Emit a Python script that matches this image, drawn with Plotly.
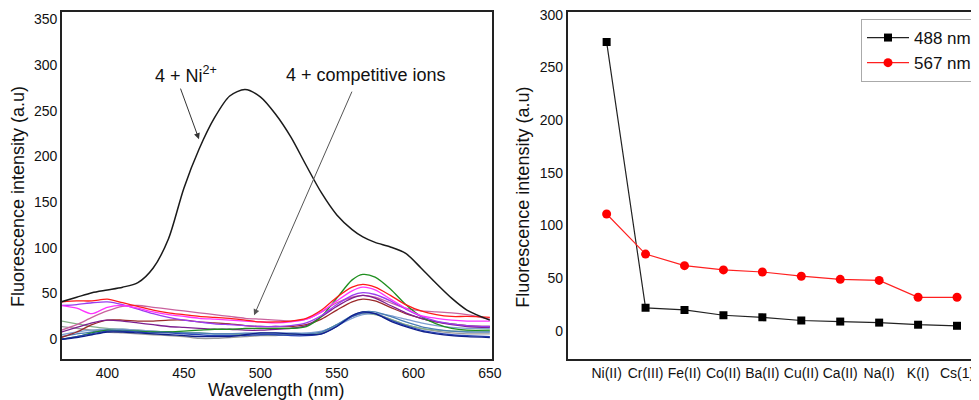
import plotly.graph_objects as go

# ---------------- data ----------------
wavelength = [370, 380, 390, 400, 410, 420, 430, 440, 450, 460, 470, 480, 490, 500, 510,
              520, 530, 540, 550, 560, 567, 575, 585, 595, 605, 615, 625, 635, 650]

ni_curve = [41, 46, 51, 54, 57, 62, 78, 110, 165, 208, 242, 266, 273, 265, 246,
            221, 190, 160, 136, 120, 112, 106, 101, 94, 78, 61, 45, 32, 21]

red_curve = [41, 42, 42, 44, 40, 36, 32, 29, 27, 25, 24, 23, 21, 19, 19,
             20, 23, 32, 46, 57, 60, 57, 48, 38, 31, 27, 25, 25, 24]
magenta_curve = [37, 34, 28, 35, 37, 34, 30, 27, 25, 23, 22, 21, 20, 19, 18,
                 19, 22, 30, 42, 53, 57, 54, 44, 34, 26, 23, 21, 20, 20]
violet_curve = [37, 38, 40, 41, 38, 33, 28, 24, 21, 19, 17, 16, 15, 14, 14,
                15, 18, 26, 38, 48, 51, 49, 42, 33, 25, 20, 17, 15, 14]
orchid_curve = [10, 16, 24, 31, 36, 37, 35, 33, 31, 29, 27, 25, 23, 22, 21,
                20, 22, 30, 40, 46, 48, 46, 40, 34, 31, 30, 29, 27, 22]
maroon_curve = [2, 8, 16, 21, 21, 20, 20, 21, 21, 19, 18, 17, 15, 14, 14,
                14, 16, 22, 32, 41, 44, 42, 35, 28, 23, 19, 17, 15, 14]
purple_curve = [8, 13, 18, 21, 20, 18, 16, 14, 13, 12, 11, 11, 10, 10, 11,
                12, 15, 25, 36, 45, 48, 45, 37, 29, 23, 19, 16, 14, 13]
green_curve = [0, 3, 7, 10, 9, 9, 8, 8, 9, 10, 11, 11, 12, 12, 12,
               12, 14, 25, 45, 65, 71, 68, 55, 38, 25, 17, 12, 10, 10]
navy_curve = [0, 2, 5, 8, 8, 7, 6, 5, 4, 3, 3, 3, 5, 7, 7,
              6, 5, 6, 14, 26, 30, 28, 20, 14, 9, 6, 4, 3, 2]
blue_curve = [0, 3, 6, 9, 9, 8, 7, 7, 6, 5, 4, 4, 4, 5, 5,
              4, 4, 6, 14, 25, 29, 28, 21, 15, 10, 7, 5, 4, 3]
steel_curve = [3, 6, 8, 10, 10, 9, 8, 8, 7, 7, 6, 6, 6, 6, 6,
               6, 6, 8, 16, 26, 30, 30, 25, 19, 14, 11, 9, 8, 8]
cornflower_curve = [5, 8, 10, 11, 11, 10, 9, 8, 7, 6, 6, 6, 7, 7, 7,
                    7, 7, 9, 15, 23, 27, 28, 26, 22, 18, 15, 13, 12, 12]
greygreen_curve = [20, 17, 14, 12, 11, 10, 9, 8, 7, 7, 6, 6, 5, 5, 5,
                   5, 5, 8, 16, 25, 28, 27, 22, 16, 12, 10, 9, 9, 9]
grey_curve = [14, 12, 10, 8, 7, 6, 5, 4, 3, 1, 1, 2, 3, 4, 4,
              5, 5, 7, 15, 25, 29, 28, 22, 16, 12, 9, 7, 6, 6]

ions = ["Ni(II)", "Cr(III)", "Fe(II)", "Co(II)", "Ba(II)", "Cu(II)", "Ca(II)", "Na(I)", "K(I)", "Cs(1)"]
int_488 = [274, 22, 20, 15, 13, 10, 9, 8, 6, 5]
int_567 = [111, 73, 62, 58, 56, 52, 49, 48, 32, 32]

# ---------------- figure ----------------
W, H = 979, 400
OFF = 8  # page body margin
FONT = "Liberation Sans, Arial, sans-serif"


def fx(x):
    return (x - OFF) / W


def fy(y):
    return 1 - (y - OFF) / H


fig = go.Figure()

comp = [
    (grey_curve, "#9a9a9a"),
    (greygreen_curve, "#86b086"),
    (cornflower_curve, "#7f9fd0"),
    (steel_curve, "#4a7fb5"),
    (orchid_curve, "#c9629e"),
    (maroon_curve, "#9b2a2a"),
    (purple_curve, "#7d1f8f"),
    (green_curve, "#1f8f1f"),
    (violet_curve, "#9a3cf0"),
    (magenta_curve, "#ff33ff"),
    (red_curve, "#ff1a1a"),
    (blue_curve, "#2a46b8"),
    (navy_curve, "#10208a"),
]
for vals, col in comp:
    fig.add_trace(go.Scatter(x=wavelength, y=vals, mode="lines", line=dict(color=col, width=1.3, shape="spline", smoothing=0.8),
                             xaxis="x", yaxis="y", showlegend=False, hoverinfo="skip"))

fig.add_trace(go.Scatter(x=wavelength, y=ni_curve, mode="lines", line=dict(color="#1a1a1a", width=1.5, shape="spline", smoothing=0.8),
                         xaxis="x", yaxis="y", showlegend=False))

fig.add_trace(go.Scatter(x=ions, y=int_488, mode="lines+markers", name="488 nm",
                         line=dict(color="#222222", width=1.2),
                         marker=dict(symbol="square", size=8, color="#000000"),
                         xaxis="x2", yaxis="y2"))
fig.add_trace(go.Scatter(x=ions, y=int_567, mode="lines+markers", name="567 nm",
                         line=dict(color="#ff2020", width=1.2),
                         marker=dict(symbol="circle", size=9, color="#ff0000"),
                         xaxis="x2", yaxis="y2"))

axcommon = dict(showgrid=False, zeroline=False, showline=True, linecolor="#222222", linewidth=1.6,
                ticks="", automargin=False, tickfont=dict(family=FONT, size=14, color="#111111"))

fig.update_layout(
    template="none",
    width=W, height=H,
    margin=dict(l=0, r=0, t=0, b=0, pad=0, autoexpand=False),
    paper_bgcolor="white", plot_bgcolor="white",
    font=dict(family=FONT, color="#111111"),
    xaxis=dict(domain=[fx(62), fx(492)], range=[370.4, 651.4], tickvals=[400, 450, 500, 550, 600, 650],
               mirror=True, anchor="y", **axcommon),
    yaxis=dict(domain=[fy(359), fy(12)], range=[-21.5, 357.8], tickvals=[0, 50, 100, 150, 200, 250, 300, 350],
               mirror=True, anchor="x", **axcommon),
    xaxis2=dict(domain=[fx(567.7), 1.0], range=[-1, 9.77], type="category",
                mirror=True, anchor="y2", **axcommon),
    yaxis2=dict(domain=[fy(359), fy(12)], range=[-26.5, 302.5], tickvals=[0, 50, 100, 150, 200, 250, 300],
                mirror=True, anchor="x2", ticklabeloverflow="allow", **axcommon),
    legend=dict(x=fx(861), y=fy(19), xanchor="left", yanchor="top",
                bordercolor="#aaaaaa", borderwidth=1, bgcolor="white",
                font=dict(family=FONT, size=17, color="#111111"), tracegroupgap=0, itemwidth=42),
)

ann = []
# axis titles
ann.append(dict(text="Fluorescence intensity (a.u)", x=fx(18), y=fy(197), xref="paper", yref="paper",
                xanchor="center", yanchor="middle",
                textangle=-90, showarrow=False, font=dict(family=FONT, size=18)))
ann.append(dict(text="Fluorescence intensity (a.u)", x=fx(522.7), y=fy(197), xref="paper", yref="paper",
                xanchor="center", yanchor="middle",
                textangle=-90, showarrow=False, font=dict(family=FONT, size=18)))
ann.append(dict(text="Wavelength (nm)", x=fx(276), y=fy(390), xref="paper", yref="paper",
                xanchor="center", yanchor="middle", showarrow=False, font=dict(family=FONT, size=18)))
# labels
ann.append(dict(text="4 + Ni<sup>2+</sup>", x=fx(186), y=fy(74), xref="paper", yref="paper",
                xanchor="center", yanchor="middle", showarrow=False, font=dict(family=FONT, size=18)))
ann.append(dict(text="4 + competitive ions", x=fx(366), y=fy(75), xref="paper", yref="paper",
                xanchor="center", yanchor="middle", showarrow=False, font=dict(family=FONT, size=18)))
# arrows
ann.append(dict(text="", x=459.9, y=218.8, ax=447.5, ay=275.7, xref="x", yref="y", axref="x", ayref="y",
                showarrow=True, arrowhead=2, arrowsize=1.2, arrowwidth=1, arrowcolor="#333333"))
ann.append(dict(text="", x=495.9, y=26.3, ax=560.3, ay=272.4, xref="x", yref="y", axref="x", ayref="y",
                showarrow=True, arrowhead=2, arrowsize=1.2, arrowwidth=1, arrowcolor="#555555"))
fig.update_layout(annotations=ann)

fig.write_html("out.html")
